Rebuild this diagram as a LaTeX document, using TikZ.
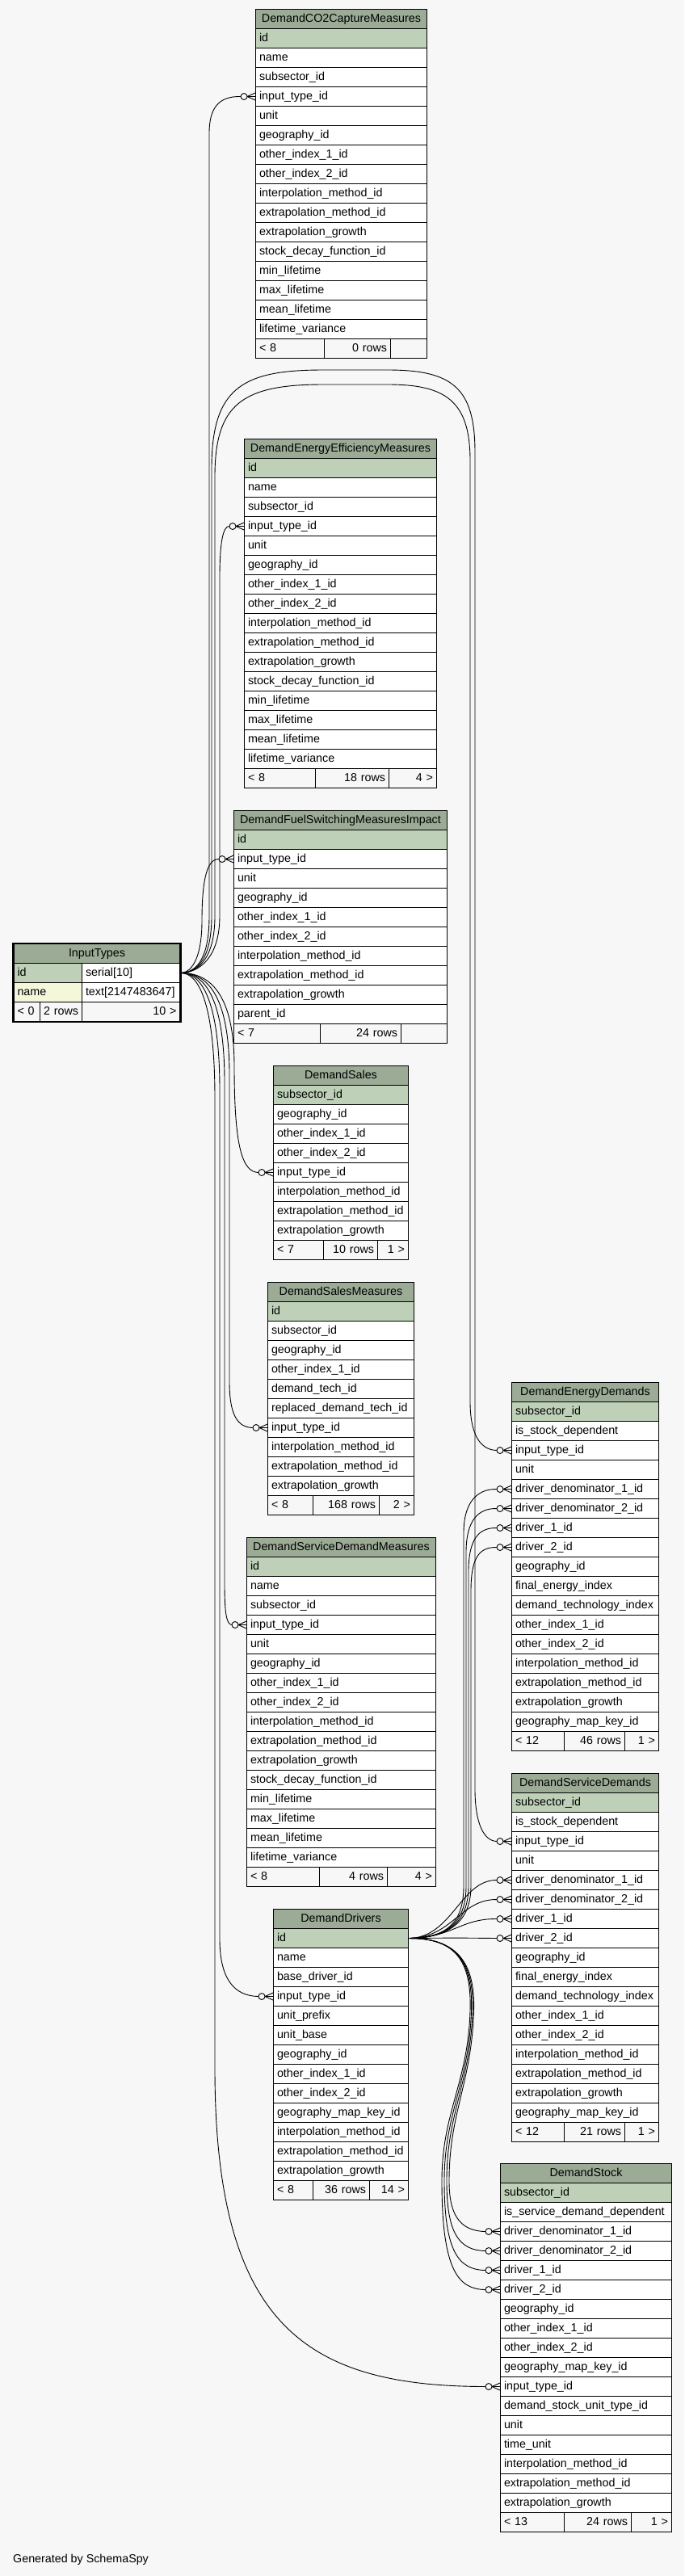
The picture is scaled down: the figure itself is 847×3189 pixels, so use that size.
\documentclass[tikz,border=0pt]{standalone}
\usepackage{fontspec}
\setmainfont{Liberation Sans}
\usetikzlibrary{calc}
\definecolor{bg}{HTML}{F7F7F7}
\definecolor{hdr}{HTML}{9BAB96}
\definecolor{pkc}{HTML}{BED1B8}
\definecolor{idx}{HTML}{F4F7DA}
\tikzset{
  cell/.style={draw=black, line width=1pt, minimum height=24pt, inner xsep=4.5pt, inner ysep=0pt,
    anchor=north west, font=\fontsize{14.3}{17}\selectfont, text height=10.5pt, text depth=3pt},
  hdrcell/.style={cell, fill=hdr, align=center},
  rowcell/.style={cell, fill=white, align=left},
  pkcell/.style={cell, fill=pkc, align=left},
  idxcell/.style={cell, fill=idx, align=left},
  footcell/.style={cell, fill=bg},
  edge/.style={draw=black, line width=0.9pt},
  deco/.style={draw=black, line width=0.9pt}
}
\newcommand\mktable[6]{%
  \pgfmathsetmacro\tw{#4-9}%
  \node[hdrcell, text width=\tw pt] (#1-0) at (#2,#3) {#5};
  \foreach \c [count=\i] in {#6} {
    \ifnum\i=1 \def\st{pkcell}\else\def\st{rowcell}\fi
    \node[\st, text width=\tw pt] (#1-\i) at (#2,#3+24*\i) {\c};
  }
}
\newcommand\mkfoot[9]{%
  \pgfmathsetmacro\wa{#3-#2-9}\pgfmathsetmacro\wb{#4-#3-9}\pgfmathsetmacro\wc{#5-#4-9}%
  \node[footcell, align=left, text width=\wa pt] (#1-fa) at (#2,#6) {#7};
  \node[footcell, align=right, text width=\wb pt] (#1-fb) at (#3,#6) {#8};
  \node[footcell, align=right, text width=\wc pt] (#1-fc) at (#4,#6) {#9};
}
\newcommand\fkpt[1]{\coordinate (#1-e) at ($(#1.west)+(-18,0)$);}
\newcommand\fkend[1]{%
  \draw[deco] ($(#1.west)+(-10,0)$) -- ($(#1.west)+(0,-4.5)$)
              ($(#1.west)+(-10,0)$) -- (#1.west)
              ($(#1.west)+(-10,0)$) -- ($(#1.west)+(0,4.5)$);
  \draw[deco, fill=bg] ($(#1.west)+(-14,0)$) circle[radius=4pt];
}
\begin{document}
\begin{tikzpicture}[x=1pt,y=-1pt]
\path[use as bounding box, fill=bg] (0,0) rectangle (847,3189);

% tables
\mktable{cc}{316}{11}{212}{DemandCO2CaptureMeasures}{id,name,subsector\_id,input\_type\_id,unit,geography\_id,other\_index\_1\_id,other\_index\_2\_id,interpolation\_method\_id,extrapolation\_method\_id,extrapolation\_growth,stock\_decay\_function\_id,min\_lifetime,max\_lifetime,mean\_lifetime,lifetime\_variance}
\mkfoot{cc}{316}{401}{483}{528}{419}{< 8}{0 rows}{}

\mktable{ee}{302}{543}{238}{DemandEnergyEfficiencyMeasures}{id,name,subsector\_id,input\_type\_id,unit,geography\_id,other\_index\_1\_id,other\_index\_2\_id,interpolation\_method\_id,extrapolation\_method\_id,extrapolation\_growth,stock\_decay\_function\_id,min\_lifetime,max\_lifetime,mean\_lifetime,lifetime\_variance}
\mkfoot{ee}{302}{390}{481}{540}{951}{< 8}{18 rows}{4 >}

\mktable{fs}{289}{1003}{264}{DemandFuelSwitchingMeasuresImpact}{id,input\_type\_id,unit,geography\_id,other\_index\_1\_id,other\_index\_2\_id,interpolation\_method\_id,extrapolation\_method\_id,extrapolation\_growth,parent\_id}
\mkfoot{fs}{289}{396}{496}{553}{1267}{< 7}{24 rows}{}

\mktable{ds}{338}{1319}{167}{DemandSales}{subsector\_id,geography\_id,other\_index\_1\_id,other\_index\_2\_id,input\_type\_id,interpolation\_method\_id,extrapolation\_method\_id,extrapolation\_growth}
\mkfoot{ds}{338}{400}{467}{505}{1535}{< 7}{10 rows}{1 >}

\mktable{sm}{331}{1587}{181}{DemandSalesMeasures}{id,subsector\_id,geography\_id,other\_index\_1\_id,demand\_tech\_id,replaced\_demand\_tech\_id,input\_type\_id,interpolation\_method\_id,extrapolation\_method\_id,extrapolation\_growth}
\mkfoot{sm}{331}{387}{469}{512}{1851}{< 8}{168 rows}{2 >}

\mktable{sd}{305}{1903}{234}{DemandServiceDemandMeasures}{id,name,subsector\_id,input\_type\_id,unit,geography\_id,other\_index\_1\_id,other\_index\_2\_id,interpolation\_method\_id,extrapolation\_method\_id,extrapolation\_growth,stock\_decay\_function\_id,min\_lifetime,max\_lifetime,mean\_lifetime,lifetime\_variance}
\mkfoot{sd}{305}{395}{479}{539}{2311}{< 8}{4 rows}{4 >}

\mktable{dd}{338}{2363}{167}{DemandDrivers}{id,name,base\_driver\_id,input\_type\_id,unit\_prefix,unit\_base,geography\_id,other\_index\_1\_id,other\_index\_2\_id,geography\_map\_key\_id,interpolation\_method\_id,extrapolation\_method\_id,extrapolation\_growth}
\mkfoot{dd}{338}{387}{457}{505}{2699}{< 8}{36 rows}{14 >}

\mktable{ed}{633}{1711}{182}{DemandEnergyDemands}{subsector\_id,is\_stock\_dependent,input\_type\_id,unit,driver\_denominator\_1\_id,driver\_denominator\_2\_id,driver\_1\_id,driver\_2\_id,geography\_id,final\_energy\_index,demand\_technology\_index,other\_index\_1\_id,other\_index\_2\_id,interpolation\_method\_id,extrapolation\_method\_id,extrapolation\_growth,geography\_map\_key\_id}
\mkfoot{ed}{633}{698}{773}{815}{2143}{< 12}{46 rows}{1 >}

\mktable{sv}{633}{2195}{182}{DemandServiceDemands}{subsector\_id,is\_stock\_dependent,input\_type\_id,unit,driver\_denominator\_1\_id,driver\_denominator\_2\_id,driver\_1\_id,driver\_2\_id,geography\_id,final\_energy\_index,demand\_technology\_index,other\_index\_1\_id,other\_index\_2\_id,interpolation\_method\_id,extrapolation\_method\_id,extrapolation\_growth,geography\_map\_key\_id}
\mkfoot{sv}{633}{698}{773}{815}{2627}{< 12}{21 rows}{1 >}

\mktable{st}{619}{2678}{212}{DemandStock}{subsector\_id,is\_service\_demand\_dependent,driver\_denominator\_1\_id,driver\_denominator\_2\_id,driver\_1\_id,driver\_2\_id,geography\_id,other\_index\_1\_id,other\_index\_2\_id,geography\_map\_key\_id,input\_type\_id,demand\_stock\_unit\_type\_id,unit,time\_unit,interpolation\_method\_id,extrapolation\_method\_id,extrapolation\_growth}
\mkfoot{st}{619}{698}{781}{831}{3110}{< 13}{24 rows}{1 >}

% InputTypes
\node[hdrcell, text width=197pt] (it-0) at (16.5,1168) {InputTypes};
\node[pkcell, text width=75.5pt] (it-1a) at (16.5,1192) {id};
\node[rowcell, text width=112.5pt] (it-1b) at (101,1192) {serial[10]};
\node[idxcell, text width=75.5pt] (it-2a) at (16.5,1216) {name};
\node[rowcell, text width=112.5pt] (it-2b) at (101,1216) {text[2147483647]};
\mkfoot{it}{16.5}{49}{101}{222.5}{1240}{< 0}{2 rows}{10 >}
\draw[line width=2.5pt] (it-0.north west) rectangle (it-fc.south east);

% end points
\foreach \n in {cc-4,ee-4,fs-2,ds-5,sm-7,sd-4,dd-4,ed-3,sv-3,st-11,ed-5,ed-6,ed-7,ed-8,sv-5,sv-6,sv-7,sv-8,st-3,st-4,st-5,st-6} {\fkpt{\n}}

% InputTypes edges (upwards)
\draw[edge] (it-1b.east) .. controls (245,1204) and (259,1184) .. (259,1134) -- (259,165) .. controls (259,132) and (272,119) .. (cc-4-e);
\draw[edge] (it-1b.east) .. controls (248,1204) and (272,1184) .. (272,1134) -- (272,715) .. controls (272,672) and (276,651) .. (ee-4-e);
\draw[edge] (it-1b.east) .. controls (246,1204) and (262,1184) .. (262,1134) -- (262,580) .. controls (262,480) and (300,458) .. (400,458) -- (480,458) .. controls (560,458) and (588,480) .. (588,560) -- (588,2215) .. controls (588,2255) and (598,2279) .. (sv-3-e);
\draw[edge] (it-1b.east) .. controls (247,1204) and (266,1184) .. (266,1134) -- (266,590) .. controls (266,500) and (300,476) .. (400,476) -- (480,476) .. controls (550,476) and (582,495) .. (582,570) -- (582,1735) .. controls (582,1775) and (594,1795) .. (ed-3-e);
\draw[edge] (it-1b.east) .. controls (240,1204) and (250,1180) .. (250,1140) .. controls (250,1090) and (256,1063) .. (fs-2-e);
% InputTypes edges (downwards)
\draw[edge] (it-1b.east) .. controls (265,1204) and (290,1239) .. (290,1320) .. controls (290,1420) and (300,1451) .. (ds-5-e);
\draw[edge] (it-1b.east) .. controls (260,1204) and (284,1239) .. (284,1330) -- (284,1710) .. controls (284,1750) and (293,1767) .. (sm-7-e);
\draw[edge] (it-1b.east) .. controls (255,1204) and (278,1239) .. (278,1340) -- (278,1960) .. controls (278,1995) and (280,2011) .. (sd-4-e);
\draw[edge] (it-1b.east) .. controls (250,1204) and (272,1239) .. (272,1350) -- (272,2400) .. controls (272,2450) and (290,2471) .. (dd-4-e);
\draw[edge] (it-1b.east) .. controls (245,1204) and (266,1239) .. (266,1360) -- (266,2560) .. controls (266,2880) and (380,2954) .. (st-11-e);

% DemandDrivers edges
\foreach \k/\x/\yy in {5/574/1843,6/577/1867,7/580/1891,8/583/1915}
  {\draw[edge] (dd-1.east) .. controls (548,2399) and (\x,2385) .. (\x,2335) -- (\x,\yy+55) .. controls (\x,\yy+15) and (592,\yy) .. (ed-\k-e);}
\foreach \k/\yy in {5/2327,6/2351,7/2375,8/2399}
  {\draw[edge] (dd-1.east) .. controls (560,2399) and (570,\yy) .. (sv-\k-e);}
\foreach \k/\yy/\o in {3/2762/9,4/2786/6,5/2810/3,6/2834/0}
  {\draw[edge] (dd-1.east) .. controls (566,2399) and (584+\o/2,2430) .. (582+\o/2,2490) .. controls (579+\o/2,2580) and (547+\o,2615) .. (547+\o,2700) .. controls (547+\o,\yy-22) and (568,\yy) .. (st-\k-e);}

% crow's feet
\foreach \n in {cc-4,ee-4,fs-2,ds-5,sm-7,sd-4,dd-4,ed-3,sv-3,st-11,ed-5,ed-6,ed-7,ed-8,sv-5,sv-6,sv-7,sv-8,st-3,st-4,st-5,st-6} {\fkend{\n}}

\node[anchor=west, inner sep=0pt, font=\fontsize{14.3}{17}\selectfont] (gen) at (16,3169) {Generated by SchemaSpy};
\end{tikzpicture}
\end{document}
